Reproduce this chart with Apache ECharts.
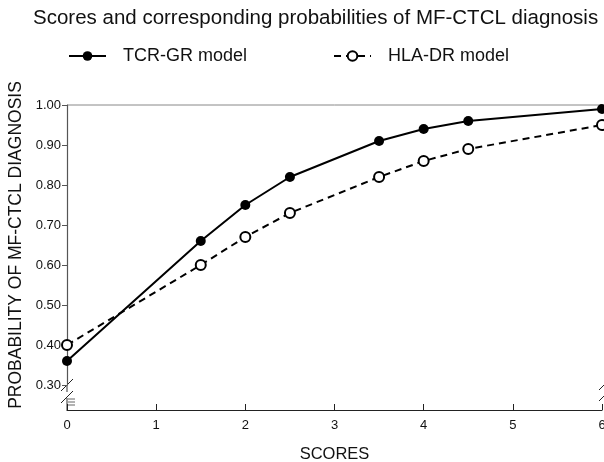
<!DOCTYPE html>
<html>
<head>
<meta charset="utf-8">
<script src="https://cdn.jsdelivr.net/npm/echarts@6/dist/echarts.min.js"></script>
<style>
  html, body { margin: 0; padding: 0; background: #fff; }
  #chart { width: 604px; height: 462px; }
</style>
</head>
<body>
<div id="chart"></div>
<script>
// scores on x, probability on y
const scores = [0, 1.5, 2, 2.5, 3.5, 4, 4.5, 6];
const tcrGr = [0.36, 0.66, 0.75, 0.82, 0.91, 0.94, 0.96, 0.99];
const hlaDr = [0.40, 0.60, 0.67, 0.73, 0.82, 0.86, 0.89, 0.95];
const xTicks = [0, 1, 2, 3, 4, 5, 6];
const yTicks = [0.30, 0.40, 0.50, 0.60, 0.70, 0.80, 0.90, 1.00];

const font = 'Liberation Sans, Arial, sans-serif';
const pairs = (ys) => scores.map((x, i) => [x, ys[i]]);

const chart = echarts.init(document.getElementById('chart'));

// plot box: left 67, right 602, top 105 (1.00), bottom 385 (0.30); x axis drawn lower at 410
const L = 67, R = 602, T = 105, B = 385, XA = 410;

const option = {
    animation: false,
    title: {
        text: 'Scores and corresponding probabilities of MF-CTCL diagnosis',
        left: 28,
        top: 3,
        textStyle: { fontFamily: font, fontSize: 20.5, fontWeight: 'normal', color: '#111' }
    },
    legend: {
        top: 42,
        left: 63,
        itemGap: 86,
        itemWidth: 37,
        itemHeight: 12,
        textStyle: { fontFamily: font, fontSize: 18, color: '#111', padding: [0, 0, 0, 12] },
        data: ['TCR-GR model', 'HLA-DR model']
    },
    grid: { left: L, right: 604 - R, top: T, bottom: 462 - B, outerBoundsMode: 'none' },
    xAxis: {
        type: 'value',
        min: 0,
        max: 6,
        interval: 1,
        offset: XA - B,
        name: 'SCORES',
        nameLocation: 'middle',
        nameGap: 36,
        nameTextStyle: { fontFamily: font, fontSize: 16.5, color: '#111' },
        axisLine: { lineStyle: { color: '#222', width: 1.2 } },
        axisTick: { inside: true, length: 6, lineStyle: { color: '#222' } },
        axisLabel: {
            fontFamily: font, fontSize: 13, color: '#111', margin: 9,
            formatter: (v) => xTicks.includes(v) ? String(v) : ''
        },
        splitLine: { show: false }
    },
    yAxis: {
        type: 'value',
        min: 0.3,
        max: 1.0,
        interval: 0.1,
        name: 'PROBABILITY OF MF-CTCL DIAGNOSIS',
        nameLocation: 'middle',
        nameGap: 40,
        nameTextStyle: { fontFamily: font, fontSize: 17.5, color: '#111' },
        axisLine: { show: true, lineStyle: { color: '#555', width: 1.2 } },
        axisTick: { show: true, length: 5, lineStyle: { color: '#555' } },
        axisLabel: {
            fontFamily: font, fontSize: 13, color: '#111', margin: 6,
            formatter: (v) => {
                const t = yTicks.find(y => Math.abs(y - v) < 1e-6);
                return t === undefined ? '' : t.toFixed(2);
            }
        },
        splitLine: { show: false }
    },
    graphic: [
        // top frame line
        { type: 'line', shape: { x1: L, y1: T, x2: R, y2: T }, style: { stroke: '#888', lineWidth: 1 }, silent: true },
        // y axis continues down to x axis
        { type: 'line', shape: { x1: L, y1: B, x2: L, y2: 392 }, style: { stroke: '#555', lineWidth: 1.2 }, silent: true },
        { type: 'line', shape: { x1: L, y1: 398, x2: L, y2: XA }, style: { stroke: '#555', lineWidth: 1.2 }, silent: true },
        // break marks on y axis
        { type: 'line', shape: { x1: L - 6, y1: 391, x2: L + 6, y2: 379 }, style: { stroke: '#222', lineWidth: 1 }, silent: true },
        { type: 'line', shape: { x1: L - 6, y1: 403, x2: L + 6, y2: 391 }, style: { stroke: '#222', lineWidth: 1 }, silent: true },
        { type: 'line', shape: { x1: L + 1, y1: 399, x2: L + 8, y2: 399 }, style: { stroke: '#666', lineWidth: 1 }, silent: true },
        { type: 'line', shape: { x1: L + 1, y1: 402, x2: L + 8, y2: 402 }, style: { stroke: '#666', lineWidth: 1 }, silent: true },
        { type: 'line', shape: { x1: L + 1, y1: 405, x2: L + 8, y2: 405 }, style: { stroke: '#666', lineWidth: 1 }, silent: true },
        // break marks at right end
        { type: 'line', shape: { x1: R - 3, y1: 390, x2: R + 4, y2: 383 }, style: { stroke: '#222', lineWidth: 1 }, silent: true },
        { type: 'line', shape: { x1: R - 3, y1: 401, x2: R + 4, y2: 394 }, style: { stroke: '#222', lineWidth: 1 }, silent: true }
    ],
    series: [
        {
            name: 'TCR-GR model',
            type: 'line',
            data: pairs(tcrGr),
            symbol: 'circle',
            symbolSize: 10,
            itemStyle: { color: '#000' },
            lineStyle: { color: '#000', width: 2 },
            clip: false
        },
        {
            name: 'HLA-DR model',
            type: 'line',
            data: pairs(hlaDr),
            symbol: 'emptyCircle',
            symbolSize: 10,
            itemStyle: { color: '#000', borderWidth: 1.5 },
            lineStyle: { color: '#000', width: 2, type: [7, 5] },
            clip: false
        }
    ]
};

chart.setOption(option);
</script>
</body>
</html>
